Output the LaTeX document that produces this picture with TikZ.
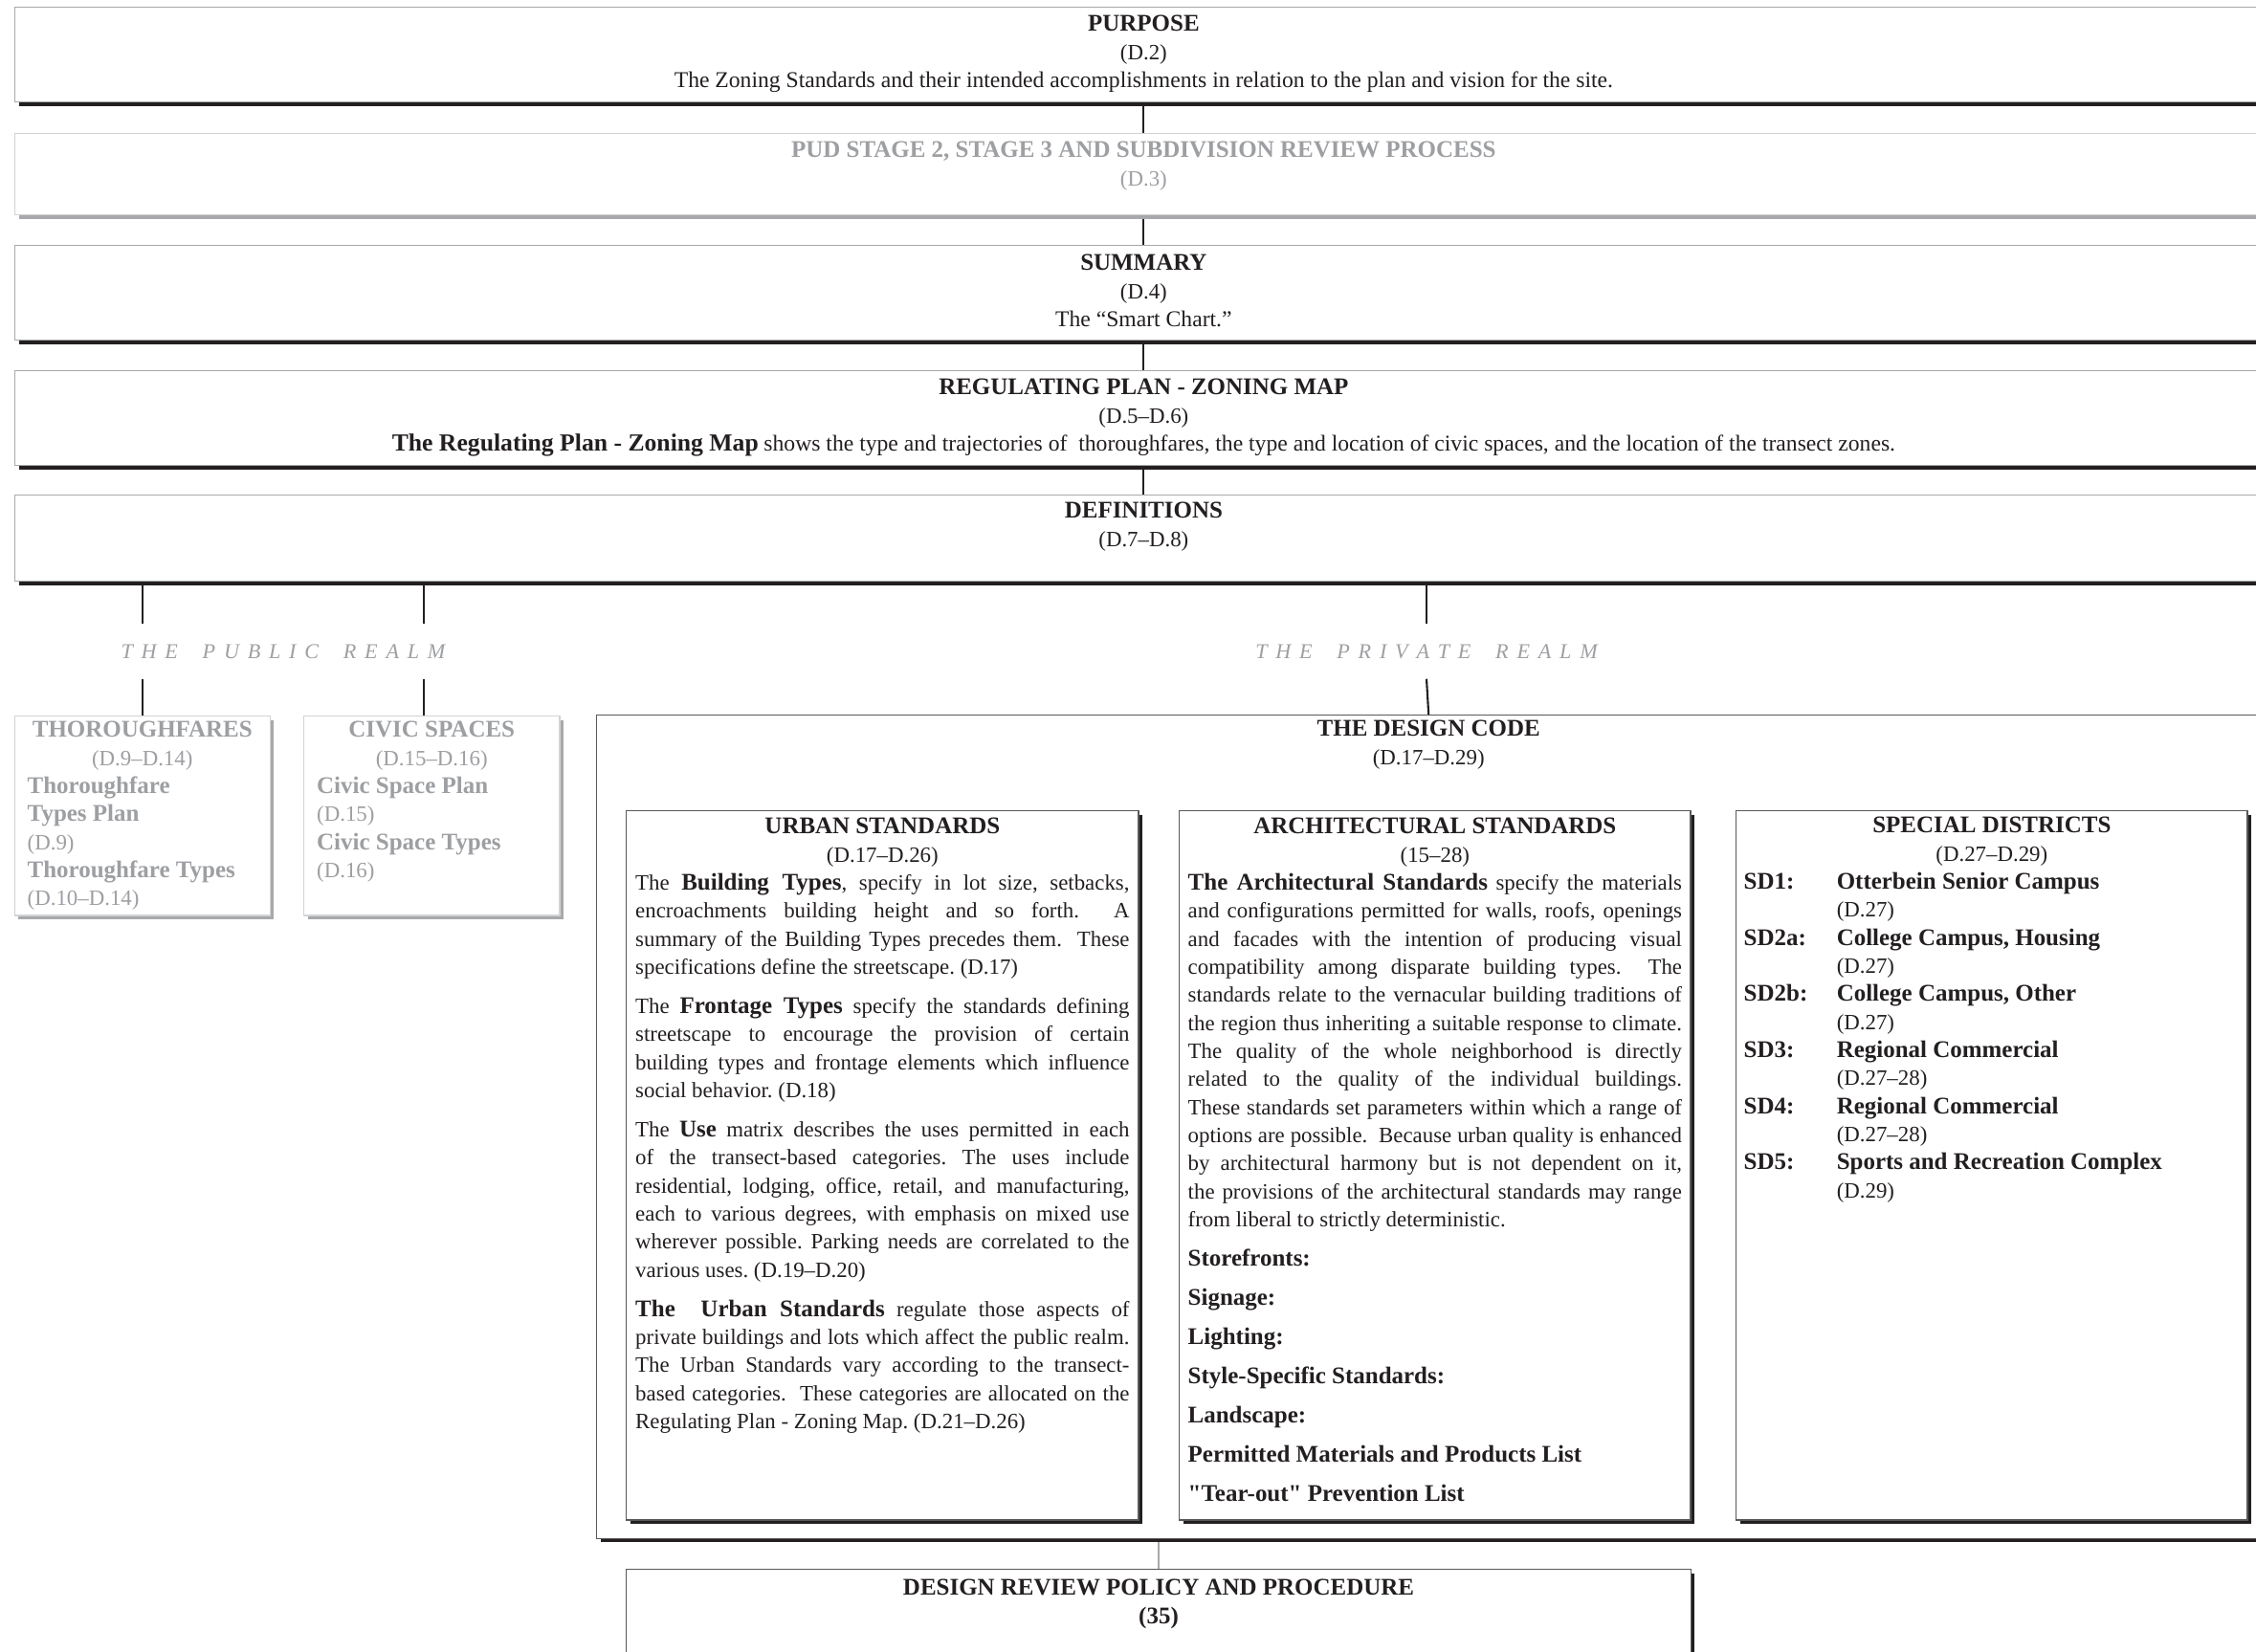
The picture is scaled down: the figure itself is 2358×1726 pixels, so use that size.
\documentclass[tikz,border=0pt]{standalone}
\usepackage{fontspec}
\setmainfont{Liberation Serif}
\usetikzlibrary{backgrounds,shadows}
\definecolor{colorInk}{HTML}{231F20}
\definecolor{colorEdge}{HTML}{A7A9AC}
\definecolor{colorPale}{HTML}{D1D3D4}
\definecolor{colorFade}{HTML}{9D9FA2}
\definecolor{colorSlate}{HTML}{58595B}
\def\colorInk{colorInk}
\def\colorEdge{colorEdge}
\def\colorPale{colorPale}
\def\colorFade{colorFade}
\def\colorSlate{colorSlate}
\newcommand{\corps}{\fontsize{6.5pt}{8.34pt}\selectfont\frenchspacing}
\newcommand{\desc}{\fontsize{6.72pt}{8.34pt}\selectfont}
\newcommand{\gras}{\fontsize{7.1pt}{8.34pt}\selectfont\bfseries}
\newcommand{\lsp}{\hspace{2.5pt}}
\newcommand{\wsp}{\hspace{7.3pt}}
\newcommand{\dq}{\XeTeXglyph\XeTeXcharglyph"22\relax}
\newcommand{\district}[3]{\makebox[0.97cm][l]{\gras #1}{\gras #2}\\ \hspace*{0.97cm}#3}

\begin{document}
\begin{tikzpicture}[x=0.01cm,y=-0.01cm,
  cadre/.style={draw, fill=white, anchor=north west, inner ysep=0pt,
    line width=0.4pt, font=\corps, text=\colorInk},
  widebox/.style={cadre, draw=\colorEdge, inner xsep=0pt,
    drop shadow={shadow xshift=1.1pt, shadow yshift=-1.1pt, fill=\colorInk, opacity=1}},
  fadebox/.style={cadre, draw=\colorPale, text=\colorFade,
    drop shadow={shadow xshift=1.1pt, shadow yshift=-1.1pt, fill=\colorEdge, opacity=1}},
  darkbox/.style={cadre, draw=\colorSlate,
    drop shadow={shadow xshift=1.1pt, shadow yshift=-1.1pt, fill=\colorInk, opacity=1}},
  realm/.style={inner sep=0pt, minimum height=0.56cm, text=\colorFade,
    font=\fontsize{6.3pt}{8pt}\selectfont\itshape},
  link/.style={draw=\colorInk, line width=0.6pt},
  thinlink/.style={draw=\colorEdge, line width=0.4pt}]

\useasboundingbox (0,0) rectangle (2358,1726);
\clip (0,0) rectangle (2358,1726);

% Les bandeaux du haut
\node[widebox] (purpose) at (15,7) {\parbox[t][0.99cm][t]{23.58cm}{\centering
  \rule{0pt}{0.25cm}{\gras PURPOSE}\\ (D.2)\\
  {\desc The Zoning Standards and their intended accomplishments in relation to the plan and vision for the site.}}};

\node[fadebox, inner xsep=0pt] (pud) at (15,139) {\parbox[t][0.85cm][t]{23.58cm}{\centering
  \rule{0pt}{0.25cm}{\gras PUD STAGE 2, STAGE 3 AND SUBDIVISION REVIEW PROCESS}\\ (D.3)}};

\node[widebox] (summary) at (15,256) {\parbox[t][0.99cm][t]{23.58cm}{\centering
  \rule{0pt}{0.26cm}{\gras SUMMARY}\\ (D.4)\\ {\desc The ``Smart Chart.''}}};

\node[widebox] (regplan) at (15,387) {\parbox[t][0.99cm][t]{23.58cm}{\centering
  \rule{0pt}{0.25cm}{\gras REGULATING PLAN - ZONING MAP}\\ (D.5--D.6)\\
  {\fontsize{7.3pt}{8.34pt}\selectfont\bfseries The Regulating Plan - Zoning Map}
  {\desc shows the type and trajectories of\ \ thoroughfares, the type and location of civic spaces, and the location of the transect zones.}}};

\node[widebox] (defs) at (15,517) {\parbox[t][0.90cm][t]{23.58cm}{\centering
  \rule{0pt}{0.24cm}{\gras DEFINITIONS}\\ (D.7--D.8)}};

% Les deux domaines
\node[realm] (pubrealm) at (296,681) {T\lsp H\lsp E\wsp P\lsp U\lsp B\lsp L\lsp I\lsp C\wsp R\lsp E\lsp A\lsp L\lsp M};
\node[realm] (privrealm) at (1491,681) {T\lsp H\lsp E\wsp P\lsp R\lsp I\lsp V\lsp A\lsp T\lsp E\wsp R\lsp E\lsp A\lsp L\lsp M};

% Domaine public, en gris
\node[fadebox, inner xsep=0.135cm] (thor) at (14.5,748) {\parbox[t][2.08cm][t]{2.40cm}{\raggedright
  {\centering\rule{0pt}{0.22cm}{\gras THOROUGHFARES}\\ (D.9--D.14)\par}
  {\gras Thoroughfare}\\ {\gras Types Plan}\\ (D.9)\\ {\gras Thoroughfare Types}\\ (D.10--D.14)}};

\node[fadebox, inner xsep=0.135cm] (civic) at (317,748) {\parbox[t][2.08cm][t]{2.40cm}{\raggedright
  {\centering\rule{0pt}{0.22cm}{\gras CIVIC SPACES}\\ (D.15--D.16)\par}
  {\gras Civic Space Plan}\\ (D.15)\\ {\gras Civic Space Types}\\ (D.16)}};
\coordinate (civicjoint) at ([xshift=-0.085cm]civic.north);

% Le code de conception et ses trois blocs
\node[darkbox, inner xsep=0pt] (design) at (623,747) {\parbox[t][8.60cm][t]{17.38cm}{\centering
  \rule{0pt}{0.22cm}{\gras THE DESIGN CODE}\\ (D.17--D.29)}};

\node[darkbox, inner xsep=0.095cm] (urban) at (654,847) {\parbox[t][7.41cm][t]{5.16cm}{%
  {\centering\rule{0pt}{0.24cm}{\gras URBAN STANDARDS}\\ (D.17--D.26)\par}
  The {\gras Building Types}, specify in lot size, setbacks,\linebreak
  encroachments building height and so forth.\ \ A\linebreak
  summary of the Building Types precedes them.\ \ These\linebreak
  specifications define the streetscape. (D.17)\par\vspace{0.117cm}
  The {\gras Frontage Types} specify the standards defining\linebreak
  streetscape to encourage the provision of certain\linebreak
  building types and frontage elements which influence\linebreak
  social behavior. (D.18)\par\vspace{0.117cm}
  The {\gras Use} matrix describes the uses permitted in each\linebreak
  of the transect-based categories. The uses include\linebreak
  residential, lodging, office, retail, and manufacturing,\linebreak
  each to various degrees, with emphasis on mixed use\linebreak
  wherever possible. Parking needs are correlated to the\linebreak
  various uses. (D.19--D.20)\par\vspace{0.117cm}
  {\gras The\ \ Urban Standards} regulate those aspects of\linebreak
  private buildings and lots which affect the public realm.\linebreak
  The Urban Standards vary according to the transect-\linebreak
  based categories.\ \ These categories are allocated on the\linebreak
  Regulating Plan - Zoning Map. (D.21--D.26)}};

\node[darkbox, inner xsep=0.09cm] (arch) at (1232,847) {\parbox[t][7.41cm][t]{5.16cm}{%
  {\centering\rule{0pt}{0.24cm}{\gras ARCHITECTURAL STANDARDS}\\ (15--28)\par}
  {\gras The Architectural Standards} specify the materials\linebreak
  and configurations permitted for walls, roofs, openings\linebreak
  and facades with the intention of producing visual\linebreak
  compatibility among disparate building types.\ \ The\linebreak
  standards relate to the vernacular building traditions of\linebreak
  the region thus inheriting a suitable response to climate.\linebreak
  The quality of the whole neighborhood is directly\linebreak
  related to the quality of the individual buildings.\linebreak
  These standards set parameters within which a range of\linebreak
  options are possible.\ \ Because urban quality is enhanced\linebreak
  by architectural harmony but is not dependent on it,\linebreak
  the provisions of the architectural standards may range\linebreak
  from liberal to strictly deterministic.\par\vspace{0.117cm}
  {\gras Storefronts:}\par\vspace{0.117cm}
  {\gras Signage:}\par\vspace{0.117cm}
  {\gras Lighting:}\par\vspace{0.117cm}
  {\gras Style-Specific Standards:}\par\vspace{0.117cm}
  {\gras Landscape:}\par\vspace{0.117cm}
  {\gras Permitted Materials and Products List}\par\vspace{0.117cm}
  {\gras \dq Tear-out\dq\ Prevention List}}};

\node[darkbox, inner xsep=0.08cm] (special) at (1814,847) {\parbox[t][7.41cm][t]{5.18cm}{\raggedright
  {\centering\rule{0pt}{0.23cm}{\gras SPECIAL DISTRICTS}\\ (D.27--D.29)\par}
  \district{SD1:}{Otterbein Senior Campus}{(D.27)}\\
  \district{SD2a:}{College Campus, Housing}{(D.27)}\\
  \district{SD2b:}{College Campus, Other}{(D.27)}\\
  \district{SD3:}{Regional Commercial}{(D.27--28)}\\
  \district{SD4:}{Regional Commercial}{(D.27--28)}\\
  \district{SD5:}{Sports and Recreation Complex}{(D.29)}}};

% La procedure de revue
\node[darkbox, inner xsep=0pt] (review) at (654,1640) {\parbox[t][1.30cm][t]{11.12cm}{\centering
  \rule{0pt}{0.27cm}{\gras DESIGN REVIEW POLICY AND PROCEDURE}\\ {\gras (35)}}};

% Les liens, derriere les cadres
\begin{scope}[on background layer]
\draw[link] (purpose.south) -- (pud.north);
\draw[link] (pud.south) -- (summary.north);
\draw[link] (summary.south) -- (regplan.north);
\draw[link] (regplan.south) -- (defs.north);
\draw[link] (thor.north |- defs.south) -- (thor.north |- pubrealm.north);
\draw[link] (thor.north |- pubrealm.south) -- (thor.north);
\draw[link] (civicjoint |- defs.south) -- (civicjoint |- pubrealm.north);
\draw[link] (civicjoint |- pubrealm.south) -- (civicjoint);
\draw[link] (privrealm.north |- defs.south) -- (privrealm.north);
\draw[link] (privrealm.south) -- (design.north);
\draw[thinlink] (review.north |- design.south) -- (review.north);
\end{scope}

\end{tikzpicture}
\end{document}
